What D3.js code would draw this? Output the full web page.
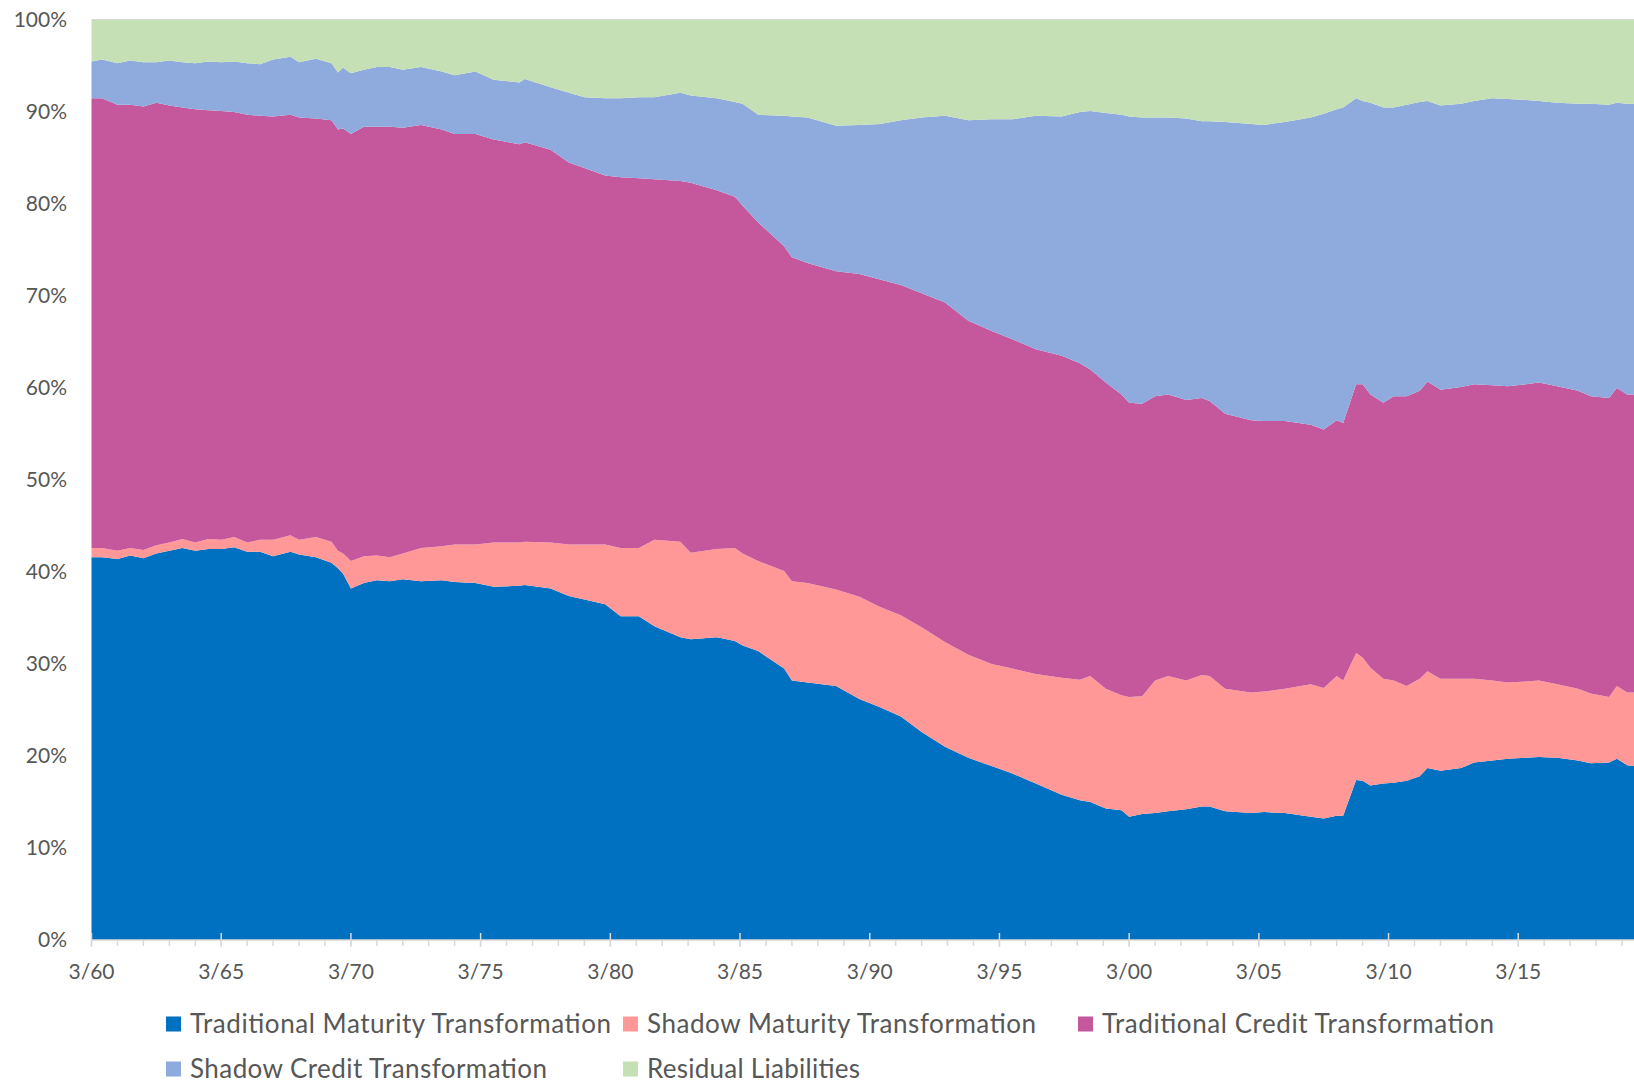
<!DOCTYPE html>
<html>
<head>
<meta charset="utf-8">
<script src="https://cdn.jsdelivr.net/npm/d3@7"></script>
<style>
  body { margin: 0; background: #fff; }
  svg text { font-family: Lato, "Open Sans", sans-serif; fill: #575757; }
</style>
</head>
<body>
<div id="chart"></div>
<script>
// Period in decimal years (1960 = the 3/60 quarter)
const period = [
  1960.0, 1960.4, 1961.0, 1961.5, 1962.0, 1962.5, 1963.0, 1963.5, 1964.0, 1964.5,
  1965.0, 1965.5, 1966.0, 1966.5, 1967.0, 1967.67, 1968.0, 1968.65, 1969.25, 1969.5,
  1969.7, 1970.0, 1970.5, 1971.0, 1971.5, 1972.0, 1972.7, 1973.5, 1974.0, 1974.8,
  1975.5, 1976.5, 1976.7, 1977.7, 1978.4, 1979.0, 1979.8, 1980.4, 1981.1, 1981.7,
  1982.7, 1983.1, 1984.1, 1984.8, 1985.1, 1985.7, 1986.7, 1987.0, 1987.6, 1988.7,
  1989.6, 1990.4, 1991.2, 1992.0, 1992.9, 1993.8, 1994.7, 1995.5, 1996.4, 1997.4,
  1998.1, 1998.5, 1999.1, 1999.7, 2000.0, 2000.5, 2001.0, 2001.5, 2002.2, 2002.8,
  2003.1, 2003.7, 2004.7, 2005.2, 2006.0, 2007.0, 2007.5, 2008.0, 2008.25, 2008.75,
  2009.0, 2009.3, 2009.8, 2010.2, 2010.7, 2011.2, 2011.5, 2012.0, 2012.8, 2013.3,
  2014.0, 2014.6, 2015.3, 2015.8, 2016.5, 2017.3, 2017.8, 2018.5, 2018.8, 2019.2,
  2019.5
];

// Shares of total liabilities (%)
const tradMaturity = [
  41.6, 41.6, 41.4, 41.8, 41.5, 42.0, 42.3, 42.6, 42.3, 42.5,
  42.5, 42.7, 42.2, 42.2, 41.7, 42.2, 41.9, 41.6, 41.0, 40.4,
  39.8, 38.2, 38.8, 39.1, 39.0, 39.2, 39.0, 39.1, 38.9, 38.8,
  38.4, 38.5, 38.6, 38.2, 37.4, 37.0, 36.5, 35.2, 35.2, 34.1,
  32.9, 32.7, 32.9, 32.5, 32.0, 31.4, 29.5, 28.2, 28.0, 27.6,
  26.2, 25.3, 24.3, 22.6, 21.0, 19.8, 18.9, 18.1, 17.0, 15.8,
  15.2, 15.0, 14.3, 14.1, 13.4, 13.7, 13.8, 14.0, 14.2, 14.5,
  14.5, 14.0, 13.8, 13.9, 13.8, 13.4, 13.2, 13.5, 13.5, 17.4,
  17.3, 16.8, 17.0, 17.1, 17.3, 17.8, 18.7, 18.4, 18.7, 19.3,
  19.5, 19.7, 19.8, 19.9, 19.8, 19.5, 19.2, 19.3, 19.7, 19.0,
  18.9
];
const shadowMaturity = [
  1.0, 1.0, 0.9, 0.8, 0.9, 0.9, 0.9, 1.0, 0.9, 1.1,
  1.0, 1.1, 1.0, 1.3, 1.8, 1.8, 1.6, 2.2, 2.3, 1.9,
  2.2, 3.0, 2.9, 2.7, 2.6, 2.8, 3.6, 3.7, 4.1, 4.2,
  4.8, 4.7, 4.7, 5.0, 5.6, 6.0, 6.5, 7.4, 7.4, 9.4,
  10.4, 9.4, 9.6, 10.1, 10.0, 9.8, 10.6, 10.8, 10.8, 10.5,
  11.1, 10.9, 11.0, 11.4, 11.4, 11.2, 11.1, 11.4, 11.9, 12.7,
  13.1, 13.7, 13.0, 12.5, 13.0, 12.8, 14.4, 14.7, 14.0, 14.3,
  14.2, 13.3, 13.1, 13.1, 13.5, 14.4, 14.2, 15.2, 14.7, 13.8,
  13.4, 12.8, 11.4, 11.1, 10.3, 10.6, 10.5, 10.0, 9.7, 9.1,
  8.7, 8.3, 8.3, 8.3, 8.0, 7.8, 7.6, 7.1, 7.9, 7.9,
  8.0
];
const tradCredit = [
  48.9, 48.9, 48.5, 48.2, 48.2, 48.1, 47.5, 46.9, 47.1, 46.6,
  46.6, 46.2, 46.5, 46.1, 46.0, 45.7, 45.9, 45.5, 45.8, 45.8,
  46.2, 46.4, 46.7, 46.6, 46.8, 46.3, 46.0, 45.3, 44.6, 44.6,
  43.8, 43.3, 43.4, 42.7, 41.5, 40.9, 40.1, 40.3, 40.2, 39.2,
  39.2, 40.2, 39.0, 38.2, 37.8, 36.8, 35.3, 35.2, 34.8, 34.6,
  35.1, 35.6, 35.9, 36.3, 36.9, 36.3, 36.2, 35.8, 35.3, 35.0,
  34.4, 33.3, 33.3, 32.7, 32.0, 31.8, 30.9, 30.6, 30.5, 30.1,
  29.9, 29.9, 29.6, 29.4, 29.1, 28.2, 28.1, 27.8, 28.0, 29.2,
  29.7, 29.7, 30.0, 30.9, 31.5, 31.3, 31.5, 31.4, 31.7, 32.0,
  32.1, 32.2, 32.3, 32.4, 32.4, 32.4, 32.3, 32.5, 32.4, 32.4,
  32.4
];
const shadowCredit = [
  4.0, 4.2, 4.5, 4.8, 4.8, 4.4, 4.9, 4.9, 5.0, 5.3,
  5.3, 5.5, 5.6, 5.6, 6.2, 6.3, 6.0, 6.5, 6.2, 6.2,
  6.6, 6.6, 6.2, 6.5, 6.5, 6.3, 6.3, 6.3, 6.4, 6.8,
  6.5, 6.7, 6.9, 6.8, 7.6, 7.7, 8.4, 8.6, 8.8, 8.9,
  9.6, 9.5, 10.0, 10.3, 11.1, 11.7, 14.2, 15.3, 15.8, 15.8,
  16.2, 16.9, 17.9, 19.1, 20.3, 21.8, 23.0, 23.9, 25.4, 26.0,
  27.3, 28.1, 29.3, 30.4, 31.1, 31.1, 30.3, 30.1, 30.6, 30.1,
  30.4, 31.7, 32.2, 32.2, 32.5, 33.4, 34.3, 33.8, 34.3, 31.1,
  30.8, 31.7, 32.1, 31.4, 31.7, 31.4, 30.5, 30.9, 30.8, 30.8,
  31.2, 31.2, 30.9, 30.6, 30.8, 31.2, 31.8, 31.9, 31.0, 31.6,
  31.6
];
const residual = [
  4.5, 4.3, 4.7, 4.4, 4.6, 4.6, 4.4, 4.6, 4.7, 4.5,
  4.6, 4.5, 4.7, 4.8, 4.3, 4.0, 4.6, 4.2, 4.7, 5.7,
  5.2, 5.8, 5.4, 5.1, 5.1, 5.4, 5.1, 5.6, 6.0, 5.6,
  6.5, 6.8, 6.4, 7.3, 7.9, 8.4, 8.5, 8.5, 8.4, 8.4,
  7.9, 8.2, 8.5, 8.9, 9.1, 10.3, 10.4, 10.5, 10.6, 11.5,
  11.4, 11.3, 10.9, 10.6, 10.4, 10.9, 10.8, 10.8, 10.4, 10.5,
  10.0, 9.9, 10.1, 10.3, 10.5, 10.6, 10.6, 10.6, 10.7, 11.0,
  11.0, 11.1, 11.3, 11.4, 11.1, 10.6, 10.2, 9.7, 9.5, 8.5,
  8.8, 9.0, 9.5, 9.5, 9.2, 8.9, 8.8, 9.3, 9.1, 8.8,
  8.5, 8.6, 8.7, 8.8, 9.0, 9.1, 9.1, 9.2, 9.0, 9.1,
  9.1
];

const seriesNames = [
  "Traditional Maturity Transformation",
  "Shadow Maturity Transformation",
  "Traditional Credit Transformation",
  "Shadow Credit Transformation",
  "Residual Liabilities"
];
const seriesValues = [tradMaturity, shadowMaturity, tradCredit, shadowCredit, residual];
const colors = ["#0070c0", "#ff9896", "#c5579d", "#8faadc", "#c5e0b4"];

const yTicks = [0, 10, 20, 30, 40, 50, 60, 70, 80, 90, 100];
const xMajorTicks = [1960, 1965, 1970, 1975, 1980, 1985, 1990, 1995, 2000, 2005, 2010, 2015];
const xTickLabels = ["3/60", "3/65", "3/70", "3/75", "3/80", "3/85", "3/90", "3/95", "3/00", "3/05", "3/10", "3/15"];

// Dimensions
const W = 1634, H = 1085;
const plot = {left: 91.5, right: 1635, top: 20, bottom: 940};

const svg = d3.select("#chart")
  .append("svg")
    .attr("width", W)
    .attr("height", H);

const x = d3.scaleLinear()
    .domain([1960, 2019.5])
    .range([plot.left, plot.right]);
const y = d3.scaleLinear()
    .domain([0, 100])
    .range([plot.bottom, plot.top]);

// Table for the stack
const rows = period.map((p, i) => {
  const r = {period: p};
  seriesNames.forEach((name, k) => { r[name] = seriesValues[k][i]; });
  return r;
});

const stack = d3.stack().keys(seriesNames);
const layers = stack(rows);

const area = d3.area()
    .x(d => x(d.data.period))
    .y0(d => y(d[0]))
    .y1(d => y(d[1]));

svg.append("g")
  .selectAll("path")
  .data(layers)
  .enter()
  .append("path")
    .attr("d", area)
    .attr("fill", (d, i) => colors[i]);

// top border line (100% gridline)
svg.append("line")
    .attr("x1", plot.left).attr("x2", W)
    .attr("y1", y(100) - 0.5).attr("y2", y(100) - 0.5)
    .attr("stroke", "#d9d9d9")
    .attr("stroke-width", 1.2);

// Y labels
svg.append("g")
  .selectAll("text")
  .data(yTicks)
  .enter()
  .append("text")
    .attr("x", 67)
    .attr("y", d => y(d))
    .attr("dy", "0.35em")
    .attr("text-anchor", "end")
    .style("font-size", "21px")
    .text(d => d + "%");

// X axis line and ticks
const xAxis = svg.append("g");
xAxis.append("line")
    .attr("x1", plot.left).attr("x2", W)
    .attr("y1", plot.bottom).attr("y2", plot.bottom)
    .attr("stroke", "#d9d9d9")
    .attr("stroke-width", 1.5);

xAxis.selectAll("line.minor")
  .data(d3.range(1960, 2020))
  .enter()
  .append("line")
    .attr("class", "minor")
    .attr("x1", d => x(d)).attr("x2", d => x(d))
    .attr("y1", plot.bottom).attr("y2", plot.bottom + 6)
    .attr("stroke", "#d9d9d9")
    .attr("stroke-width", 1.5);

xAxis.selectAll("line.major")
  .data(xMajorTicks)
  .enter()
  .append("line")
    .attr("class", "major")
    .attr("x1", d => x(d)).attr("x2", d => x(d))
    .attr("y1", plot.bottom - 7).attr("y2", plot.bottom + 7)
    .attr("stroke", "#d9d9d9")
    .attr("stroke-width", 1.5);

xAxis.selectAll("text")
  .data(xMajorTicks)
  .enter()
  .append("text")
    .attr("x", d => x(d))
    .attr("y", 972)
    .attr("dy", "0.35em")
    .attr("text-anchor", "middle")
    .style("font-size", "21px")
    .text((d, i) => xTickLabels[i]);

// Legend
const legendPos = [
  {x: 166, y: 1024, w: 421}, {x: 623, y: 1024, w: 389}, {x: 1078, y: 1024, w: 392},
  {x: 166, y: 1069, w: 357}, {x: 623, y: 1069, w: 213}
];
const legend = svg.append("g")
  .selectAll("g")
  .data(seriesNames)
  .enter()
  .append("g")
    .attr("transform", (d, i) => `translate(${legendPos[i].x},${legendPos[i].y})`);

legend.append("rect")
    .attr("x", 0)
    .attr("y", -7.5)
    .attr("width", 15)
    .attr("height", 15)
    .attr("fill", (d, i) => colors[i]);

legend.append("text")
    .attr("x", 24)
    .attr("y", 0)
    .attr("dy", "0.35em")
    .attr("textLength", (d, i) => legendPos[i].w)
    .style("font-size", "26px")
    .text(d => d);
</script>
</body>
</html>
